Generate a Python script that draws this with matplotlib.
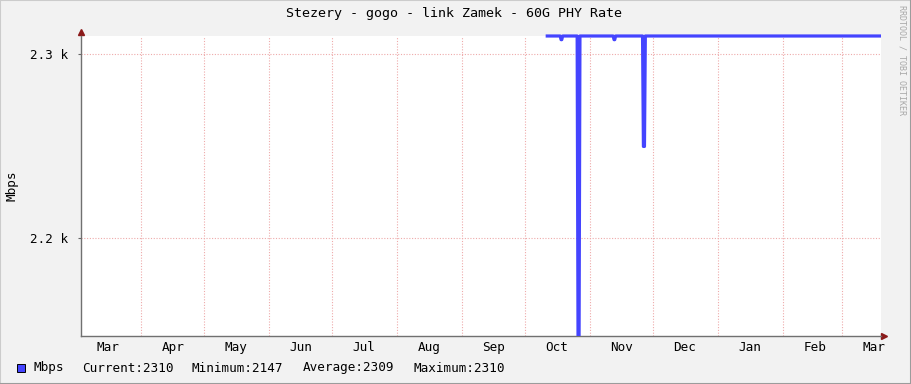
import matplotlib
matplotlib.use("Agg")
import matplotlib.pyplot as plt
from matplotlib.patches import Rectangle
from matplotlib.lines import Line2D
from matplotlib.transforms import Bbox, TransformedBbox
import pandas as pd

# --- data ---
times = [
    "2025-10-11 12:00", "2025-10-17 16:00", "2025-10-18 02:00", "2025-10-18 10:00", "2025-10-18 20:00",
    "2025-10-25 18:00", "2025-10-26 04:00", "2025-10-26 16:00", "2025-10-27 02:00",
    "2025-11-11 22:00", "2025-11-12 08:00", "2025-11-12 16:00", "2025-11-13 02:00",
    "2025-11-25 22:00", "2025-11-26 08:00", "2025-11-26 20:00", "2025-11-27 06:00",
    "2026-03-19 12:00",
]
mbps = [
    2310, 2310, 2308, 2308, 2310,
    2310, 2147, 2147, 2310,
    2310, 2308, 2308, 2310,
    2310, 2250, 2250, 2310,
    2310,
]
month_starts = ["2025-04-01", "2025-05-01", "2025-06-01", "2025-07-01", "2025-08-01", "2025-09-01",
                "2025-10-01", "2025-11-01", "2025-12-01", "2026-01-01", "2026-02-01", "2026-03-01"]
month_mids = ["2025-03-16", "2025-04-16", "2025-05-16", "2025-06-16", "2025-07-16", "2025-08-16",
              "2025-09-16", "2025-10-16", "2025-11-16", "2025-12-16", "2026-01-16", "2026-02-16",
              "2026-03-16"]
month_labels = ["Mar", "Apr", "May", "Jun", "Jul", "Aug", "Sep", "Oct", "Nov", "Dec", "Jan", "Feb", "Mar"]
y_ticks = [2200, 2300]
y_labels = ["2.2 k", "2.3 k"]
legend_stats = ["Current:2310", "Minimum:2147", "Average:2309", "Maximum:2310"]

W, H = 911, 384
MONO = "DejaVu Sans Mono"
FS = 9.1
LINE_C = "#4444ff"
GRID_C = "#eeaaaa"
ARROW_C = "#8b1a1a"

fig = plt.figure(figsize=(W / 100, H / 100), dpi=100)
fig.patch.set_facecolor("#f2f2f2")

# plot area in pixels: x 81..881, y 36..336
ax = fig.add_axes([81 / W, (H - 336) / H, 800 / W, 300 / H])
ax.set_facecolor("white")

t = pd.to_datetime(times)
line, = ax.plot(t, mbps, color=LINE_C, lw=2.3, solid_joinstyle="round", zorder=3)
line.set_clip_box(TransformedBbox(Bbox([[0, 0], [1, 1.03]]), ax.transAxes))

ax.set_xlim(pd.Timestamp("2025-03-03 06:00"), pd.Timestamp("2026-03-19 14:00"))
ax.set_ylim(2147, 2310)

# month grid lines, labels at mid-month
ax.set_xticks(pd.to_datetime(month_starts))
ax.set_xticklabels([])
ax.set_xticks(pd.to_datetime(month_mids), minor=True)
ax.set_xticklabels(month_labels, minor=True, fontfamily=MONO, fontsize=FS)
ax.tick_params(axis="x", which="both", length=0, pad=3.5)
ax.set_yticks(y_ticks)
ax.set_yticklabels(y_labels, fontfamily=MONO, fontsize=FS)
ax.tick_params(axis="y", length=2, pad=7.5, color="#666666")

ax.grid(True, which="major", color=GRID_C, lw=0.8, linestyle=(0, (1, 1.5)))

for side in ("top", "right"):
    ax.spines[side].set_visible(False)
for side in ("left", "bottom"):
    ax.spines[side].set_color("#707070")
    ax.spines[side].set_linewidth(1.0)

# rrdtool style axis arrows
ax.plot([1.004], [0], marker=">", color=ARROW_C, ms=4, transform=ax.transAxes, clip_on=False)
ax.plot([0], [1.015], marker="^", color=ARROW_C, ms=4, transform=ax.transAxes, clip_on=False)

fig.text(12 / W, 1 - 186 / H, "Mbps", rotation=90, ha="center", va="center",
         fontfamily=MONO, fontsize=FS)

fig.text(454 / W, 1 - 13 / H, "Stezery - gogo - link Zamek - 60G PHY Rate",
         ha="center", va="center", fontfamily=MONO, fontsize=9.6)
fig.text(902 / W, 1 - 5 / H, "RRDTOOL / TOBI OETIKER", rotation=270,
         ha="center", va="top", fontfamily=MONO, fontsize=6, color="#a8a8a8")

# legend row
fig.add_artist(Rectangle((17 / W, (H - 372) / H), 8 / W, 8 / H, transform=fig.transFigure,
                         facecolor=LINE_C, edgecolor="black", lw=0.7))
fig.text(33 / W, 1 - 368 / H, "Mbps", ha="left", va="center", fontfamily=MONO, fontsize=FS)
for x0, s in zip([82, 192, 303, 413], legend_stats):
    fig.text(x0 / W, 1 - 368 / H, s, ha="left", va="center", fontfamily=MONO, fontsize=FS)

# 3D frame around the canvas
fig.add_artist(Line2D([0, 0], [0, 1], transform=fig.transFigure, color="#cccccc", lw=1.5))
fig.add_artist(Line2D([0, 1], [1, 1], transform=fig.transFigure, color="#cccccc", lw=1.5))
fig.add_artist(Line2D([1, 1], [0, 1], transform=fig.transFigure, color="#9c9c9c", lw=1.5))
fig.add_artist(Line2D([0, 1], [0, 0], transform=fig.transFigure, color="#9c9c9c", lw=1.5))

fig.savefig("out.png", dpi=100, facecolor=fig.get_facecolor())
